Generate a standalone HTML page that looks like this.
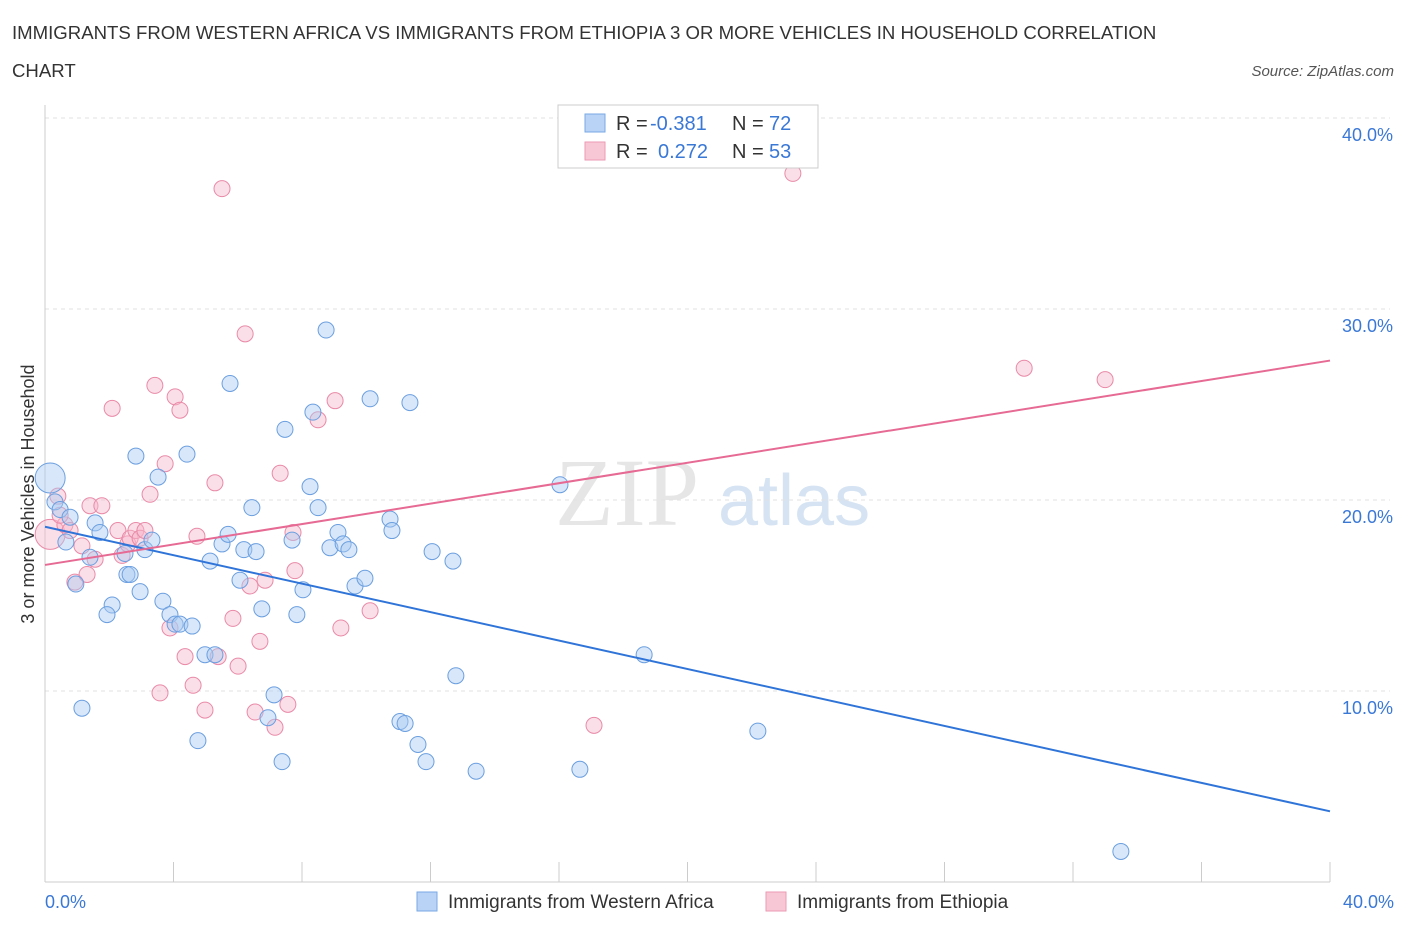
<!DOCTYPE html>
<html><head><meta charset="utf-8"><style>
body{margin:0;background:#fff;font-family:"Liberation Sans",sans-serif;}
svg{display:block}
</style></head><body>
<svg id="chart" width="1406" height="930" xmlns="http://www.w3.org/2000/svg">
<text x="12" y="39" font-size="18.6" fill="#333">IMMIGRANTS FROM WESTERN AFRICA VS IMMIGRANTS FROM ETHIOPIA 3 OR MORE VEHICLES IN HOUSEHOLD CORRELATION</text>
<text x="12" y="77" font-size="18.6" fill="#333">CHART</text>
<text x="1394" y="76" font-size="15" fill="#555" text-anchor="end" font-style="italic">Source: ZipAtlas.com</text>
<text x="555" y="525" font-size="96" fill="#e6e6e6" font-family="Liberation Serif">ZIP</text>
<text x="718" y="525" font-size="72" fill="#d5e3f3">atlas</text>
<g id="grid"></g>
<g id="axes"></g>
<g id="marks"></g>
<text transform="translate(34,494) rotate(-90)" font-size="18" fill="#333" text-anchor="middle">3 or more Vehicles in Household</text>
<text x="45" y="908" font-size="18" fill="#3a78d6">0.0%</text>
<text x="1394" y="908" font-size="18" fill="#3a78d6" text-anchor="end">40.0%</text>
<g font-size="20">
<rect x="558" y="105" width="260" height="63" fill="#fff" stroke="#ccc"/>
<rect x="585" y="114" width="20" height="18" fill="#b8d3f5" stroke="#7aa8e6"/>
<text x="616" y="130" fill="#333">R =</text>
<text x="650" y="130" fill="#3a78d6">-0.381</text>
<text x="732" y="130" fill="#333">N =</text>
<text x="769" y="130" fill="#3a78d6">72</text>
<rect x="585" y="142" width="20" height="18" fill="#f8c7d6" stroke="#eb9bb4"/>
<text x="616" y="158" fill="#333">R =</text>
<text x="658" y="158" fill="#3a78d6">0.272</text>
<text x="732" y="158" fill="#333">N =</text>
<text x="769" y="158" fill="#3a78d6">53</text>
</g>
<g>
<rect x="417" y="892" width="20" height="19" fill="#b8d3f5" stroke="#7aa8e6"/>
<text x="448" y="908" font-size="19" fill="#333">Immigrants from Western Africa</text>
<rect x="766" y="892" width="20" height="19" fill="#f8c7d6" stroke="#eb9bb4"/>
<text x="797" y="908" font-size="19" fill="#333">Immigrants from Ethiopia</text>
</g>
</svg>
<script>
const yTicks=[10,20,30,40];
const yTickLabels=["10.0%","20.0%","30.0%","40.0%"];
const blueX=[0.16,0.31,0.47,0.78,0.65,1.56,1.71,1.40,0.96,2.09,1.93,1.15,2.49,2.55,2.65,2.96,3.11,3.33,2.83,3.52,3.67,3.89,4.05,4.20,4.58,4.42,4.76,4.98,5.14,5.29,5.51,5.70,5.76,6.07,6.19,6.57,6.44,6.75,6.94,7.13,7.38,7.47,7.69,7.84,8.03,8.25,8.34,8.50,8.75,8.87,9.12,9.28,9.46,9.65,9.96,10.12,10.74,10.80,11.05,11.21,11.36,11.61,11.86,12.05,12.70,12.79,13.42,16.03,16.65,18.65,22.19,33.49];
const blueY=[21.15,19.9,19.5,19.1,17.8,18.8,18.3,17.0,15.6,14.5,14.0,9.1,17.2,16.1,16.1,15.2,17.4,17.9,22.3,21.2,14.7,14.0,13.5,13.5,13.4,22.4,7.4,11.9,16.8,11.9,17.7,18.2,26.1,15.8,17.4,17.3,19.6,14.3,8.6,9.8,6.3,23.7,17.9,14.0,15.3,20.7,24.6,19.6,28.9,17.5,18.3,17.7,17.4,15.5,15.9,25.3,19.0,18.4,8.4,8.3,25.1,7.2,6.3,17.3,16.8,10.8,5.8,20.8,5.9,11.9,7.9,1.6];
const pinkX=[0.16,0.40,0.62,0.78,0.93,1.15,1.31,1.40,1.56,1.77,2.09,2.27,2.40,2.58,2.65,2.83,2.96,3.11,3.27,3.42,3.58,3.74,3.89,4.05,4.20,4.36,4.61,4.73,4.98,5.29,5.39,5.51,5.85,6.01,6.23,6.38,6.54,6.69,6.85,7.16,7.32,7.56,7.72,7.78,8.50,9.03,9.21,10.12,17.09,23.28,30.48,33.00,0.47];
const pinkY=[18.2,20.2,18.7,18.4,15.7,17.6,16.1,19.7,16.9,19.7,24.8,18.4,17.1,17.7,18.0,18.4,18.0,18.4,20.3,26.0,9.9,21.9,13.3,25.4,24.7,11.8,10.3,18.1,9.0,20.9,11.8,36.3,13.8,11.3,28.7,15.5,8.9,12.6,15.8,8.1,21.4,9.3,18.3,16.3,24.2,25.2,13.3,14.2,8.2,37.1,26.9,26.3,19.2];
const blueTrend=[18.6,3.7];
const pinkTrend=[16.6,27.3];
const NS="http://www.w3.org/2000/svg";
const X0=45,X1=1330,Y0=882,Y1=118;
const xs=v=>X0+(X1-X0)*v/40;
const ys=v=>Y0-(Y0-Y1)*v/40;
function mk(t,a,p){const e=document.createElementNS(NS,t);for(const k in a)e.setAttribute(k,a[k]);p.appendChild(e);return e;}
const grid=document.getElementById('grid'),axes=document.getElementById('axes'),marks=document.getElementById('marks');
yTicks.forEach((v,i)=>{
 const l=mk('line',{x1:X0,x2:X1+60,y1:ys(v),y2:ys(v),stroke:'#e2e2e2','stroke-dasharray':'4,4'},grid);
 
 
 const t=mk('text',{x:1393,y:ys(v)+23,'font-size':18,fill:'#3a78d6','text-anchor':'end'},grid);
 t.textContent=yTickLabels[i];
 
 
});
const ax=mk('line',{x1:X0,x2:X0,y1:105,y2:Y0,stroke:'#ccc'},axes);


const bx=mk('line',{x1:X0,x2:X1,y1:Y0,y2:Y0,stroke:'#ccc'},axes);


for(let i=0;i<=10;i++){
 const t=mk('line',{x1:xs(i*4),x2:xs(i*4),y1:Y0-20,y2:Y0,stroke:'#ccc'},axes);
 
 
}
function pts(X,Y,fill,stroke,name){
 X.forEach((x,i)=>{
  const r=i===0?15:8;
  const c=mk('circle',{cx:xs(x),cy:ys(Y[i]),r:r,fill:fill,'fill-opacity':0.45,stroke:stroke,'stroke-width':1},marks);
  
  
 });
}
pts(pinkX,pinkY,'#f6b9cc','#e98aa8','ethiopia-point');
pts(blueX,blueY,'#a9c9f2','#6b9fe0','western-africa-point');
const bl=mk('line',{x1:xs(0),y1:ys(blueTrend[0]),x2:xs(40),y2:ys(blueTrend[1]),stroke:'#2f74d8','stroke-width':2},marks);


const pl=mk('line',{x1:xs(0),y1:ys(pinkTrend[0]),x2:xs(40),y2:ys(pinkTrend[1]),stroke:'#e66a93','stroke-width':2},marks);


</script>
</body></html>
